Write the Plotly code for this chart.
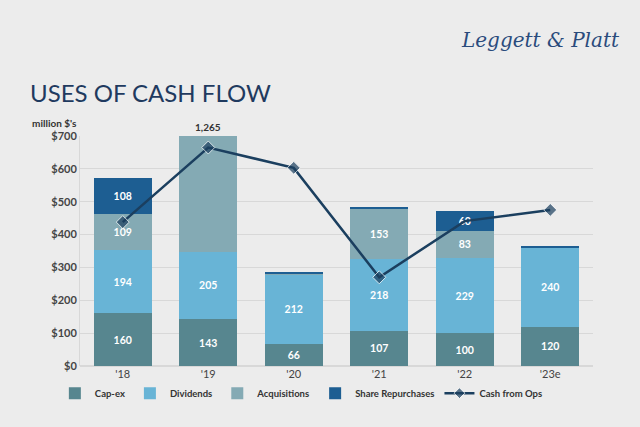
import plotly.graph_objects as go

years = ["'18", "'19", "'20", "'21", "'22", "'23e"]
capex = [160, 143, 66, 107, 100, 120]
dividends = [194, 205, 212, 218, 229, 240]
acquisitions = [109, 1265, 1, 153, 83, 0]
repurchases = [108, 15, 7, 4, 60, 5]
cash_from_ops = [438, 665, 603, 270, 441, 475]
y_ticks = [0, 100, 200, 300, 400, 500, 600, 700]
y_tick_labels = ["$0", "$100", "$200", "$300", "$400", "$500", "$600", "$700"]

Y_MAX = 700
LABEL_MIN = 30
BG = "#ECECEC"


def labels(vals):
    return [f"{v:,}" if LABEL_MIN <= v <= Y_MAX else "" for v in vals]


FONT = "Lato"
fig = go.Figure()
series = [
    ("Cap-ex", capex, "#57868F"),
    ("Dividends", dividends, "#68B4D6"),
    ("Acquisitions", acquisitions, "#84AAB4"),
    ("Share Repurchases", repurchases, "#1D5E92"),
]
for name, vals, color in series:
    fig.add_trace(go.Bar(
        x=years, y=vals, name=name,
        marker=dict(color=color, line=dict(width=0)),
        text=labels(vals), textposition="inside", insidetextanchor="middle",
        textangle=0, constraintext="none",
        textfont=dict(family=FONT, size=10.5, color="white", weight="bold"),
    ))

fig.add_trace(go.Scatter(
    x=years, y=cash_from_ops, name="Cash from Ops", mode="lines+markers",
    line=dict(color="#1B3F5F", width=2.5),
    marker=dict(symbol="diamond", size=[10 if y != "'22" else 0 for y in years], color="#1B3F5F"),
))

# Total label for the clipped bar
for yr, a in zip(years, acquisitions):
    if a > Y_MAX:
        fig.add_annotation(x=yr, y=Y_MAX, yref="y", text=f"<b>{a:,}</b>", showarrow=False,
                           yanchor="bottom", yshift=1,
                           font=dict(family=FONT, size=10, color="#333333"))

fig.add_annotation(xref="paper", yref="paper", x=-0.049, y=1.057, xanchor="center", yanchor="middle",
                   text="million $'s", showarrow=False,
                   font=dict(family=FONT, size=10, color="#333333", weight="bold"))

fig.add_annotation(xref="paper", yref="paper", x=-0.102, y=1.19, xanchor="left", yanchor="middle",
                   text="USES OF CASH FLOW", showarrow=False,
                   font=dict(family=FONT, size=24, color="#1F3A5F"))

fig.add_annotation(xref="paper", yref="paper", x=0.897, y=1.417, xanchor="center", yanchor="middle",
                   text="<i>Leggett &amp; Platt</i>", showarrow=False,
                   font=dict(family="DejaVu Serif", size=20, color="#2A4B7C"))

fig.update_layout(
    width=640, height=427,
    margin=dict(l=72, r=55, t=128, b=69),
    barmode="stack", bargap=0.32,
    paper_bgcolor=BG, plot_bgcolor=BG,
    font=dict(family=FONT, color="#444444"),
    showlegend=True,
    legend=dict(orientation="h", x=-0.049, xanchor="left", y=-0.055, yanchor="top",
                traceorder="normal", font=dict(family=FONT, size=9.5, color="#333333", weight="bold"),
                itemwidth=30, bgcolor="rgba(0,0,0,0)"),
    xaxis=dict(showgrid=False, showline=False, ticks="",
               tickfont=dict(family=FONT, size=11, color="#444444")),
    yaxis=dict(range=[0, Y_MAX], tickvals=y_ticks, ticktext=y_tick_labels,
               showgrid=True, gridcolor="#D8D8D8", gridwidth=1,
               showline=True, linecolor="#D8D8D8", linewidth=1,
               zeroline=True, zerolinecolor="#D8D8D8",
               tickfont=dict(family=FONT, size=11, color="#444444", weight="bold"),
               ticks="", ticklen=0),
)

fig.write_html("out.html", post_script=(
    f"document.body.style.backgroundColor='{BG}';"
    f"document.documentElement.style.backgroundColor='{BG}';"
))
